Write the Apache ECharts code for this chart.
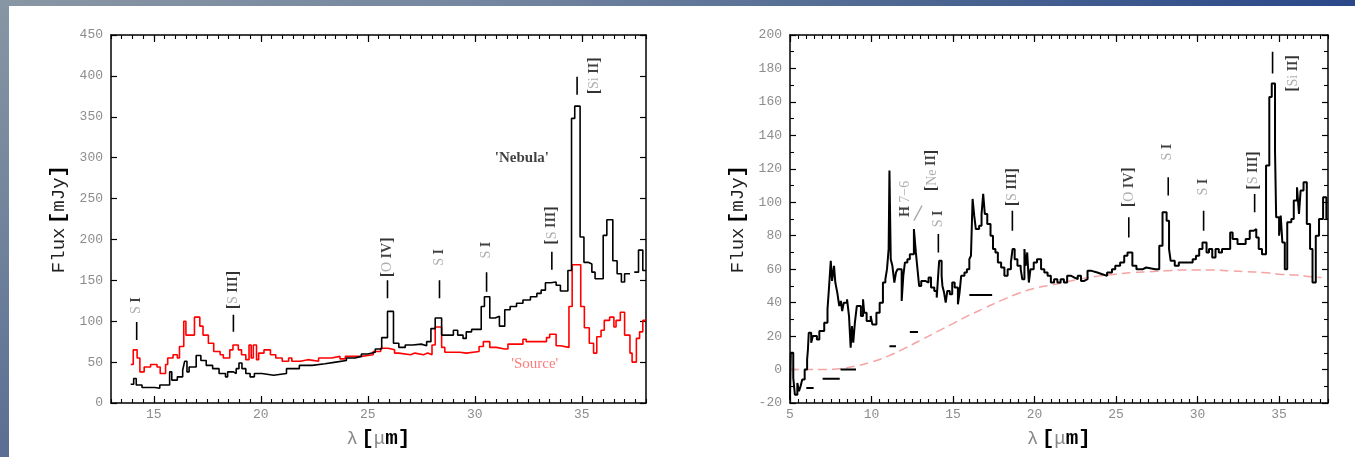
<!DOCTYPE html>
<html><head><meta charset="utf-8">
<script src="https://cdn.jsdelivr.net/npm/echarts@6/dist/echarts.min.js"></script>
<style>
html,body{margin:0;padding:0;width:1355px;height:457px;overflow:hidden;background:#fff;}
#topstrip{position:absolute;left:0;top:0;width:1355px;height:6px;background:linear-gradient(to right,#8996a4 0%,#7587a0 35%,#4a6490 70%,#2a4889 100%);}
#leftstrip{position:absolute;left:0;top:0;width:9px;height:457px;background:linear-gradient(to bottom,#8796a4 0%,#71839b 50%,#5a6e93 100%);}
#chart{position:absolute;left:0;top:0;width:1355px;height:457px;}
</style></head>
<body>
<div id="topstrip"></div><div id="leftstrip"></div>
<div id="chart"></div>
<script>
// ---------- LEFT PANEL DATA ----------
const xTicksLeft = [15, 20, 25, 30, 35];
const nebulaLeft = [[13.92,23],[14.06,30],[14.18,22],[14.45,19],[15.05,18],[15.28,22],[15.74,38],[15.84,28],[16.1,32],[16.35,40],[16.44,51],[16.55,38],[16.65,44],[16.98,58],[17.2,52],[17.45,46],[17.75,42],[18.05,36],[18.35,32],[18.45,38],[18.72,36],[18.85,42],[18.98,49],[19.12,42],[19.3,36],[19.5,32],[19.7,36],[20.05,34],[20.6,36],[21.2,42],[21.8,46],[22.4,48],[23.0,50],[23.5,52],[24.0,55],[24.4,57],[24.7,60],[25.0,62],[25.35,66],[25.65,80],[25.92,112],[26.2,73],[26.45,68],[26.75,71],[27.1,72],[27.5,70],[27.75,75],[27.95,91],[28.15,104],[28.45,83],[29.0,89],[29.2,83],[29.45,79],[29.6,87],[29.85,90],[30.3,118],[30.45,130],[30.7,104],[30.95,106],[31.15,94],[31.4,114],[31.65,118],[31.95,122],[32.25,126],[32.6,130],[32.9,134],[33.1,138],[33.3,147],[33.55,148],[33.8,144],[34.0,137],[34.35,162],[34.52,348],[34.67,363],[34.92,203],[35.1,172],[35.3,170],[35.47,160],[35.62,152],[36.0,205],[36.17,224],[36.45,174],[36.65,158],[36.85,148],[37.0,158],[37.2,158],[37.25,null],[37.45,160],[37.65,187],[37.85,162],[38.0,162]];
const sourceLeft = [[13.92,47],[14.04,65],[14.22,55],[14.35,38],[14.55,44],[14.85,47],[15.15,44],[15.3,36],[15.55,47],[15.65,55],[15.9,59],[16.1,55],[16.2,69],[16.4,100],[16.5,83],[16.9,105],[17.15,94],[17.3,83],[17.55,73],[17.8,63],[18.1,59],[18.25,55],[18.55,65],[18.7,71],[18.95,65],[19.1,59],[19.3,53],[19.45,71],[19.55,55],[19.65,71],[19.8,53],[19.9,61],[20.15,65],[20.45,59],[20.7,55],[21.0,51],[21.3,55],[21.45,51],[21.85,53],[22.2,51],[22.7,55],[23.3,57],[23.7,54],[23.95,57],[24.4,57],[24.7,58],[25.0,59],[25.25,63],[25.6,67],[25.95,65],[26.25,61],[26.45,59],[27.0,61],[27.2,59],[27.6,61],[27.8,59],[28.0,71],[28.15,93],[28.45,68],[28.6,62],[29.3,61],[29.6,63],[30.2,69],[30.4,75],[30.7,68],[31.0,66],[31.4,66],[31.55,72],[32.25,78],[32.4,75],[33.35,80],[33.5,84],[33.8,70],[34.0,68],[34.4,118],[34.55,169],[34.95,118],[35.12,92],[35.35,73],[35.55,61],[35.7,81],[35.9,89],[36.05,101],[36.3,105],[36.5,93],[36.6,101],[36.8,111],[37.0,83],[37.25,61],[37.35,50],[37.55,79],[37.7,87],[37.85,101],[38.0,101]];
const barsLeft = [[14.2,77,99],[18.72,87,108],[25.92,128,150],[28.35,128,150],[30.55,136,160],[33.6,163,185],[34.78,377,399]];
const labelsLeft = [[14.2,119,'S I'],[18.72,138,'[S III]'],[25.92,178,'[O IV]'],[28.35,178,'S I'],[30.55,187,'S I'],[33.6,217,'[S III]'],[35.6,400,'[Si II]']];
const namesLeft = [[32.2,299,"'Nebula'"],[32.8,48,"'Source'"]];

// ---------- RIGHT PANEL DATA ----------
const xTicksRight = [5, 10, 15, 20, 25, 30, 35];
const spectrumRight = [[5.0,-18],[5.05,10],[5.2,-5],[5.3,-15],[5.45,-8],[5.55,-13],[5.65,-10],[5.75,-6],[5.9,0],[6.05,6],[6.1,12],[6.15,22],[6.3,16],[6.4,20],[6.65,18],[6.8,23],[7.1,28],[7.3,36],[7.4,50],[7.5,65],[7.58,53],[7.7,62],[7.78,52],[7.9,46],[8.02,38],[8.12,41],[8.2,35],[8.3,40],[8.5,42],[8.62,32],[8.72,13],[8.8,26],[8.88,16],[8.98,28],[9.1,38],[9.35,32],[9.48,42],[9.55,34],[9.7,29],[9.95,32],[10.05,27],[10.3,34],[10.5,40],[10.7,52],[10.85,54],[10.95,60],[11.05,72],[11.1,119],[11.18,66],[11.28,62],[11.4,52],[11.5,58],[11.6,60],[11.85,41],[11.95,56],[12.05,64],[12.2,66],[12.35,69],[12.6,84],[12.72,70],[12.82,60],[12.92,50],[13.05,53],[13.3,52],[13.5,55],[13.65,49],[13.85,47],[14.0,43],[14.1,58],[14.15,65],[14.3,56],[14.35,50],[14.45,46],[14.55,40],[14.65,47],[14.8,45],[14.95,52],[15.1,49],[15.3,39],[15.4,46],[15.5,56],[15.7,58],[15.85,60],[16.0,66],[16.1,68],[16.2,102],[16.3,92],[16.4,84],[16.6,86],[16.75,93],[16.85,105],[16.95,93],[17.1,87],[17.3,80],[17.45,72],[17.6,70],[17.75,64],[17.95,61],[18.15,56],[18.35,60],[18.55,64],[18.65,72],[18.78,66],[18.95,62],[19.15,60],[19.25,54],[19.38,72],[19.45,62],[19.55,70],[19.65,52],[19.75,60],[19.95,64],[20.15,66],[20.4,60],[20.6,58],[20.8,56],[21.0,52],[21.2,54],[21.4,52],[21.6,54],[21.8,52],[22.0,56],[22.25,55],[22.45,54],[22.65,56],[22.85,53],[23.05,54],[23.25,59],[23.5,58],[23.85,57],[24.15,56],[24.45,58],[24.75,60],[24.95,62],[25.25,64],[25.5,68],[25.7,70],[26.0,62],[26.25,60],[26.65,61],[26.85,60],[27.4,60],[27.65,74],[27.85,94],[28.1,89],[28.25,72],[28.35,65],[28.6,62],[28.85,64],[29.5,64],[29.7,66],[29.9,68],[30.1,72],[30.3,76],[30.55,70],[30.7,72],[30.9,67],[31.1,72],[31.3,70],[31.5,72],[32.0,82],[32.15,78],[32.45,75],[32.95,78],[33.2,83],[33.45,84],[33.6,79],[33.75,72],[33.95,69],[34.2,122],[34.4,163],[34.55,171],[34.75,131],[34.82,91],[35.0,80],[35.1,92],[35.2,76],[35.35,60],[35.5,88],[35.75,90],[35.9,101],[36.1,109],[36.22,93],[36.32,107],[36.5,112],[36.7,87],[36.9,72],[37.05,52],[37.25,80],[37.45,90],[37.7,103],[37.9,90],[38.0,90]];
const modelRight = [[5,0],[6,0],[7,0],[8,0.5],[9,2],[10,4.5],[11,8],[12,12.5],[13,17.5],[14,22.5],[15,27.5],[16,32.5],[17,37],[18,41.5],[19,45.5],[20,48.5],[21,50.5],[22,52.5],[23,54.5],[24,56],[25,57],[26,58],[27,58.5],[28,59],[29,59.5],[30,59.5],[31,59.5],[32,59],[33,58.5],[34,58],[35,57],[36,56.5],[37,55.5],[37.6,55]];
const photRight = [[6.0,6.45,-11],[7.0,8.05,-5.5],[8.1,9.05,0],[11.1,11.5,14],[12.35,12.85,22.5],[16.0,17.4,44.5]];
const barsRight = [[14.1,70,81],[18.64,83,95],[25.78,79,91],[28.2,104,115],[30.37,83,95],[33.5,94,105],[34.6,177,190]];
const slashRight = [[12.6,89],[13.1,98]];
const labelsRight = [[12.1,102,'H 7\u22126'],[13.7,119,'[Ne II]'],[14.1,90,'S I'],[18.65,109,'[S III]'],[25.8,109,'[O IV]'],[28.15,130,'S I'],[30.35,109,'S I'],[33.45,119,'[S III]'],[35.85,177,'[Si II]']];

// ---------- helpers ----------
function minorValues(min, max, step) { const a = []; for (let v = min; v <= max + 1e-9; v += step) a.push(+v.toFixed(3)); return a; }
function segs(bars) { const d = []; bars.forEach(b => { d.push([b[0], b[1]], [b[0], b[2]], [b[0], null]); }); return d; }
function hsegs(ph) { const d = []; ph.forEach(p => { d.push([p[0], p[2]], [p[1], p[2]], [p[1], null]); }); return d; }
function richLabel(t) {
  return t.split(/(\[|\]|\s+)/).filter(s => s !== '').map(s => {
    if (/^\s+$/.test(s)) return '{g| }';
    if (s === '[' || s === ']') return '{k|' + s + '}';
    if (/^[IVX]+$/.test(s) || s === 'H') return '{b|' + s + '}';
    return '{g|' + s + '}';
  }).join('');
}
const labelRich = {
  k: { color: '#000', fontWeight: 'bold', fontFamily: 'Liberation Serif', fontSize: 16 },
  b: { color: '#111', fontWeight: 'bold', fontFamily: 'Liberation Serif', fontSize: 14 },
  g: { color: '#9a9a9a', fontFamily: 'Liberation Serif', fontSize: 14 }
};
const nameRich = {
  k: { color: '#222', fontFamily: 'Liberation Mono', fontSize: 19 },
  g: { color: '#888', fontFamily: 'Liberation Mono', fontSize: 19 },
  b: { color: '#000', fontWeight: 'bold', fontFamily: 'Liberation Mono', fontSize: 21 }
};
const fluxName = '{k|Flux} {b|[}{k|mJy}{b|]}';
const lamName = '{g|\u03bb} {b|[}{g|\u03bc}{b|m}{b|]}';
const tickLabel = { color: '#8c8c8c', fontFamily: 'Liberation Mono', fontSize: 13 };
const black = '#000';

function xAxesFor(g, min, max, major) {
  const minor = minorValues(min, max, 0.5);
  const base = { type: 'value', gridIndex: g, min: min, max: max, splitLine: { show: false } };
  const line = { show: true, onZero: false, lineStyle: { color: black, width: 1.5 } };
  const noLine = { show: false, onZero: false };
  return [
    Object.assign({}, base, { position: 'bottom', axisLine: line,
      axisTick: { show: true, inside: true, length: 7, customValues: major, lineStyle: { color: black, width: 1.2 } },
      axisLabel: Object.assign({ show: true, customValues: major, margin: 5 }, tickLabel),
      name: lamName, nameLocation: 'middle', nameGap: 25, nameTextStyle: { rich: nameRich } }),
    Object.assign({}, base, { position: 'bottom', axisLine: noLine,
      axisTick: { show: true, inside: true, length: 4, customValues: minor, lineStyle: { color: black, width: 1.1 } },
      axisLabel: { show: false } }),
    Object.assign({}, base, { position: 'top', axisLine: line,
      axisTick: { show: true, inside: true, length: 7, customValues: major, lineStyle: { color: black, width: 1.2 } },
      axisLabel: { show: false } }),
    Object.assign({}, base, { position: 'top', axisLine: noLine,
      axisTick: { show: true, inside: true, length: 4, customValues: minor, lineStyle: { color: black, width: 1.1 } },
      axisLabel: { show: false } })
  ];
}
function yAxesFor(g, min, max, interval, minorSplit) {
  const base = { type: 'value', gridIndex: g, min: min, max: max, interval: interval, splitLine: { show: false },
    axisLine: { show: true, onZero: false, lineStyle: { color: black, width: 1.5 } },
    axisTick: { show: true, inside: true, length: 6, lineStyle: { color: black, width: 1.2 } },
    minorTick: { show: minorSplit > 0, splitNumber: minorSplit || 5, length: 4, lineStyle: { color: black, width: 1.1 } } };
  return [
    Object.assign({}, base, { position: 'left', axisLabel: Object.assign({ show: true, margin: 8 }, tickLabel),
      name: fluxName, nameLocation: 'middle', nameGap: 42, nameRotate: 90, nameTextStyle: { rich: nameRich } }),
    Object.assign({}, base, { position: 'right', axisLabel: { show: false } })
  ];
}

const chart = echarts.init(document.getElementById('chart'), null, { renderer: 'canvas' });
const xAxes = xAxesFor(0, 13, 38, xTicksLeft).concat(xAxesFor(1, 5, 38, xTicksRight));
const yAxes = yAxesFor(0, 0, 450, 50, 0).concat(yAxesFor(1, -20, 200, 20, 2));

function labelSeries(xi, yi, data) {
  return { type: 'scatter', xAxisIndex: xi, yAxisIndex: yi, data: data, symbolSize: 1,
    itemStyle: { color: 'rgba(0,0,0,0)' }, silent: true, z: 5,
    label: { show: true, position: 'inside', rotate: 90, align: 'center', verticalAlign: 'middle',
      formatter: p => richLabel(p.data[2]), rich: labelRich } };
}
const nameData = namesLeft.map(n => ({
  value: n,
  label: n[2] === "'Source'" ? { color: '#ff5a5a', fontWeight: 'normal' } : { color: '#111', fontWeight: 'bold' }
}));

chart.setOption({
  animation: false,
  backgroundColor: 'transparent',
  grid: [
    { left: 111, top: 35, width: 535, height: 368, outerBoundsMode: 'none' },
    { left: 790, top: 35, width: 538, height: 368, outerBoundsMode: 'none' }
  ],
  xAxis: xAxes,
  yAxis: yAxes,
  series: [
    { type: 'line', xAxisIndex: 0, yAxisIndex: 0, data: sourceLeft, step: 'end', showSymbol: false, symbol: 'none',
      lineStyle: { color: '#ff0000', width: 1.6 }, z: 3 },
    { type: 'line', xAxisIndex: 0, yAxisIndex: 0, data: nebulaLeft, step: 'end', showSymbol: false, symbol: 'none',
      lineStyle: { color: '#000', width: 1.6 }, z: 4 },
    { type: 'line', xAxisIndex: 0, yAxisIndex: 0, data: segs(barsLeft), showSymbol: false, symbol: 'none',
      lineStyle: { color: '#000', width: 1.6 }, z: 4 },
    labelSeries(0, 0, labelsLeft),
    { type: 'scatter', xAxisIndex: 0, yAxisIndex: 0, data: nameData, symbolSize: 1,
      itemStyle: { color: 'rgba(0,0,0,0)' }, silent: true, z: 5,
      label: { show: true, position: 'inside', align: 'center', verticalAlign: 'middle',
        formatter: p => p.value[2], fontFamily: 'Liberation Serif', fontSize: 15 } },
    { type: 'line', xAxisIndex: 4, yAxisIndex: 2, data: modelRight, smooth: true, showSymbol: false, symbol: 'none',
      lineStyle: { color: '#f6a3a3', width: 1.5, type: [9, 5] }, z: 2 },
    { type: 'line', xAxisIndex: 4, yAxisIndex: 2, data: spectrumRight, step: 'end', showSymbol: false, symbol: 'none',
      lineStyle: { color: '#000', width: 2 }, z: 4 },
    { type: 'line', xAxisIndex: 4, yAxisIndex: 2, data: hsegs(photRight), showSymbol: false, symbol: 'none',
      lineStyle: { color: '#000', width: 2 }, z: 4 },
    { type: 'line', xAxisIndex: 4, yAxisIndex: 2, data: segs(barsRight), showSymbol: false, symbol: 'none',
      lineStyle: { color: '#000', width: 1.6 }, z: 4 },
    { type: 'line', xAxisIndex: 4, yAxisIndex: 2, data: slashRight, showSymbol: false, symbol: 'none',
      lineStyle: { color: '#aaa', width: 1.4 }, z: 4 },
    labelSeries(4, 2, labelsRight)
  ]
});
</script>
</body></html>
